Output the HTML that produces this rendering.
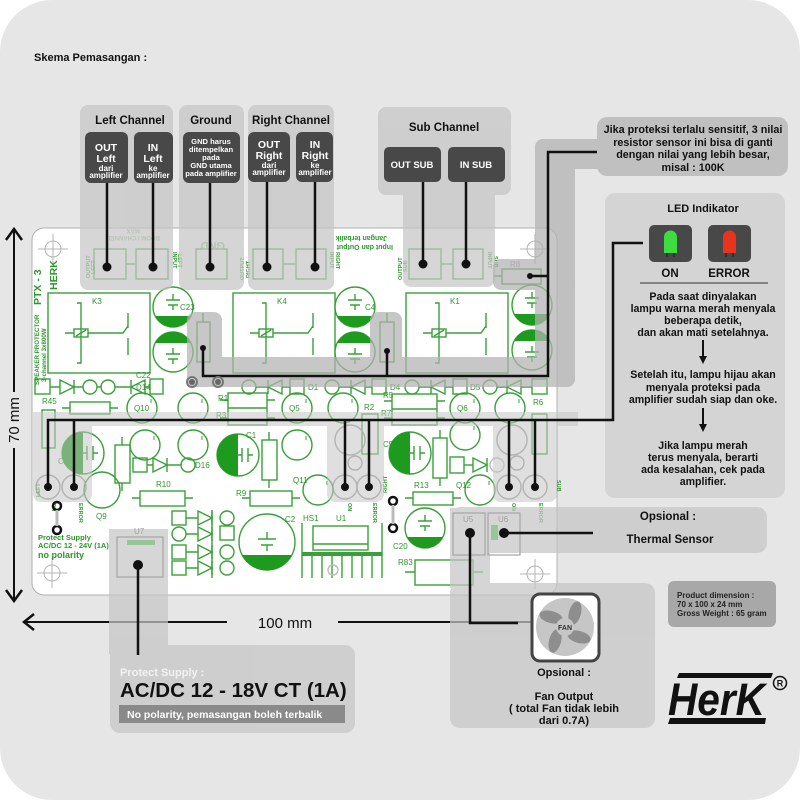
<!DOCTYPE html>
<html><head><meta charset="utf-8">
<style>
html,body{margin:0;padding:0;background:#fff;}
svg{display:block;}
text{font-family:"Liberation Sans",sans-serif;}
</style></head><body>
<svg width="800" height="800" viewBox="0 0 800 800" xmlns="http://www.w3.org/2000/svg" xmlns:xlink="http://www.w3.org/1999/xlink">
<defs>
<g id="relay" fill="none" stroke="#3a9f3a" stroke-width="1.4">
 <rect x="0" y="0" width="102" height="80"/>
 <path d="M29 10 H33 V70 H29 M17 40 H26 M40 40 H75 L80 33 M80 20 V35 M80 45 V62"/>
 <rect x="26" y="36" width="14" height="8"/>
 <path d="M28 43 L38 37"/>
</g>
<g id="capB"><circle r="20" fill="#fff" stroke="#3a9f3a" stroke-width="1.4"/><path d="M-17.9 9 A20 20 0 0 0 17.9 9 Z" fill="#1e9a1e"/><path d="M-7 -7 H7 M-5 -2 H5 M0 -13 V-7 M0 -2 V3" stroke="#3a9f3a" stroke-width="1.4" fill="none"/></g>
<g id="capT"><circle r="20" fill="#fff" stroke="#3a9f3a" stroke-width="1.4"/><path d="M-17.9 -9 A20 20 0 0 1 17.9 -9 Z" fill="#1e9a1e"/><path d="M-7 2 H7 M-5 7 H5 M0 -4 V2 M0 7 V12" stroke="#3a9f3a" stroke-width="1.4" fill="none"/></g>
<g id="capL"><circle r="21" fill="#fff" stroke="#3a9f3a" stroke-width="1.4"/><path d="M0 -21 A21 21 0 0 0 0 21 Z" fill="#1e9a1e"/><path d="M4 -7 V7 M10 -7 V7 M-1 0 H4 M10 0 H15" stroke="#3a9f3a" stroke-width="1.4" fill="none"/></g>
<g id="tr"><circle r="15" fill="none" stroke="#3a9f3a" stroke-width="1.4"/><path d="M9 -9 V-5" stroke="#3a9f3a" stroke-width="1"/></g>
<path id="dR" d="M0 -7 L14 0 L0 7 Z M14 -7 V7" fill="none" stroke="#3a9f3a" stroke-width="1.4"/>
</defs>

<!-- background -->
<rect x="0" y="0" width="800" height="800" rx="52" fill="#e6e6e6"/>

<text x="34" y="61" font-size="11" font-weight="bold" fill="#111">Skema Pemasangan :</text>

<!-- PCB -->
<rect x="32" y="228" width="525" height="367" rx="12" fill="#fff" stroke="#b0b0b0" stroke-width="1"/>

<!-- silkscreen -->
<g fill="none" stroke="#3a9f3a" stroke-width="1.4">
 <g stroke="#b5b5b5" stroke-width="1"><circle cx="53" cy="249" r="8"/><path d="M38 249 H68 M53 234 V264"/>
 <circle cx="52" cy="573" r="8"/><path d="M37 573 H67 M52 558 V588"/>
 <circle cx="535" cy="574" r="8"/><path d="M520 574 H550 M535 559 V589"/>
 <circle cx="535" cy="249" r="8"/><path d="M520 249 H550 M535 234 V264"/></g>
 <rect x="94" y="249" width="32" height="30"/><rect x="136" y="249" width="32" height="30"/><path d="M126 264 H136"/>
 <rect x="196" y="249" width="31" height="30"/>
 <rect x="253" y="249" width="30" height="30"/><rect x="296" y="249" width="30" height="30"/><path d="M283 264 H296"/>
 <rect x="409" y="249" width="32" height="30"/><rect x="453" y="249" width="30" height="30"/><path d="M441 264 H453"/>
 <rect x="502" y="269" width="39" height="15"/><path d="M493 276 H502 M541 276 H548"/>
 <rect x="197" y="322" width="13" height="40"/><path d="M203 313 V322 M203 362 V370"/>
 <rect x="380" y="322" width="14" height="40"/><path d="M387 313 V322 M387 362 V370"/>
 <rect x="35" y="379" width="15" height="15"/>
 <path d="M50 387 H60 M74 387 H83 M97 387 H101 M115 387 H131 M145 387 H150"/>
 <circle cx="90" cy="387" r="7"/><circle cx="108" cy="387" r="7"/>
 <rect x="150" y="379" width="13" height="15"/>
 <circle cx="249" cy="387" r="7"/><path d="M256 387 H268 M282 387 H290"/><rect x="290" y="379" width="14" height="15"/>
 <circle cx="332" cy="387" r="7"/><path d="M339 387 H351 M365 387 H372"/><rect x="372" y="379" width="14" height="15"/>
 <circle cx="412" cy="387" r="7"/><path d="M419 387 H431 M445 387 H453"/><rect x="453" y="379" width="14" height="15"/>
 <circle cx="490" cy="387" r="7"/><path d="M497 387 H507 M521 387 H532"/><rect x="532" y="379" width="15" height="15"/>
 <rect x="70" y="402" width="40" height="12"/><path d="M62 408 H70 M110 408 H118"/>
 <rect x="228" y="393" width="39" height="32"/><path d="M228 408 H267 M220 400 H228 M267 400 H275 M220 418 H228 M267 418 H275"/>
 <rect x="392" y="394" width="45" height="31"/><path d="M392 409 H437 M384 401 H392 M437 401 H445 M384 418 H392 M437 418 H445"/>
 <rect x="362" y="414" width="16" height="40"/>
 <rect x="532" y="414" width="15" height="40"/>
 <rect x="42" y="410" width="13" height="38"/>
 <rect x="115" y="445" width="15" height="38"/><path d="M122 437 V445 M122 483 V491"/>
 <rect x="262" y="440" width="15" height="40"/><path d="M269 432 V440 M269 480 V488"/>
 <rect x="433" y="438" width="14" height="40"/><path d="M440 430 V438 M440 478 V486"/>
 <rect x="140" y="491" width="45" height="15"/><path d="M132 498 H140 M185 498 H193"/>
 <rect x="250" y="491" width="42" height="15"/><path d="M242 498 H250 M292 498 H300"/>
 <rect x="413" y="492" width="40" height="13"/><path d="M405 498 H413 M453 498 H461"/>
 <rect x="415" y="560" width="58" height="25"/><path d="M405 572 H415 M473 572 H483"/>
 <rect x="133" y="458" width="14" height="14"/><path d="M147 465 H153 M167 465 H181"/><circle cx="188" cy="465" r="7"/>
 <rect x="450" y="457" width="14" height="16"/><path d="M464 465 H473"/><circle cx="497" cy="465" r="7" stroke="#bbb"/>
 <path d="M212 510 V578"/>
 <rect x="172" y="511" width="14" height="14"/><circle cx="179" cy="534" r="7"/><rect x="172" y="545" width="14" height="14"/><rect x="172" y="561" width="14" height="14"/>
 <circle cx="227" cy="518" r="7"/><rect x="220" y="526" width="14" height="14"/><circle cx="227" cy="552" r="7"/><circle cx="227" cy="568" r="7"/>
 <path d="M186 518 H198 M186 534 H198 M186 552 H198 M186 568 H198"/>
 <path d="M302 523 V578 M312 556 V578 M322 556 V578 M332 556 V578 M342 556 V578 M352 556 V578 M362 556 V578 M372 556 V578 M382 523 V578"/>
 <path d="M302 554 H382" stroke-width="4"/>
 <rect x="313" y="526" width="55" height="24"/><path d="M313 544 H368"/>
 <circle cx="333" cy="570" r="5" stroke="#bbb"/>
 <g stroke="#9a9a9a"><circle cx="48" cy="487" r="12"/><circle cx="74" cy="487" r="12"/><circle cx="345" cy="487" r="12"/><circle cx="369" cy="487" r="12"/><circle cx="509" cy="487" r="12"/><circle cx="535" cy="487" r="12"/>
 <circle cx="350" cy="440" r="15"/><circle cx="512" cy="440" r="15"/><circle cx="355" cy="463" r="7"/><circle cx="517" cy="463" r="7"/></g>
</g>
<use xlink:href="#relay" x="48" y="293"/>
<use xlink:href="#relay" x="233" y="293"/>
<use xlink:href="#relay" x="406" y="293"/>
<use xlink:href="#capB" x="173" y="307"/><use xlink:href="#capT" x="173" y="352"/>
<use xlink:href="#capB" x="355" y="307"/><use xlink:href="#capT" x="355" y="352"/>
<use xlink:href="#capB" x="532" y="305"/><use xlink:href="#capT" x="532" y="350"/>
<use xlink:href="#capL" x="83" y="453"/>
<use xlink:href="#capL" x="238" y="455"/>
<use xlink:href="#capL" x="410" y="453"/>
<g transform="translate(267,542)"><circle r="28" fill="#fff" stroke="#3a9f3a" stroke-width="1.4"/><path d="M-25 13 A28 28 0 0 0 25 13 Z" fill="#1e9a1e"/><path d="M-9 -3 H9 M-6 3 H6 M0 -10 V-3 M0 3 V9" stroke="#3a9f3a" stroke-width="1.4" fill="none"/></g>
<use xlink:href="#capB" x="425" y="528"/>
<use xlink:href="#dR" x="60" y="387"/>
<use xlink:href="#dR" transform="translate(145,387) scale(-1,1)"/>
<use xlink:href="#dR" transform="translate(282,387) scale(-1,1)"/>
<use xlink:href="#dR" transform="translate(365,387) scale(-1,1)"/>
<use xlink:href="#dR" transform="translate(445,387) scale(-1,1)"/>
<use xlink:href="#dR" transform="translate(521,387) scale(-1,1)"/>
<use xlink:href="#dR" x="153" y="465"/>
<use xlink:href="#dR" x="473" y="465"/>
<use xlink:href="#dR" x="198" y="518"/><use xlink:href="#dR" x="198" y="534"/><use xlink:href="#dR" x="198" y="552"/><use xlink:href="#dR" x="198" y="568"/>
<use xlink:href="#tr" x="142" y="408"/><use xlink:href="#tr" x="193" y="408"/><use xlink:href="#tr" x="297" y="408"/>
<use xlink:href="#tr" x="343" y="408"/><use xlink:href="#tr" x="465" y="408"/><use xlink:href="#tr" x="510" y="408"/>
<use xlink:href="#tr" x="145" y="445"/><use xlink:href="#tr" x="193" y="445"/><use xlink:href="#tr" x="297" y="445"/>
<use xlink:href="#tr" x="465" y="435"/><use xlink:href="#tr" x="318" y="490"/><use xlink:href="#tr" x="480" y="490"/>
<circle cx="102" cy="490" r="18" fill="none" stroke="#3a9f3a" stroke-width="1.4"/>
<g fill="#2e962e" font-size="8">
 <text x="92" y="304">K3</text><text x="277" y="304">K4</text><text x="450" y="304">K1</text>
 <text x="180" y="310">C23</text><text x="365" y="310">C4</text><text x="136" y="378">C22</text><text x="136" y="390">D14</text>
 <text x="308" y="390">D1</text><text x="390" y="390">D4</text><text x="470" y="390">D5</text>
 <text x="134" y="411">Q10</text><text x="289" y="411">Q5</text><text x="457" y="411">Q6</text>
 <text x="218" y="401">R1</text><text x="216" y="418">R3</text><text x="383" y="398">R5</text><text x="381" y="416">R7</text>
 <text x="364" y="410">R2</text><text x="533" y="405">R6</text><text x="42" y="404">R45</text>
 <text x="246" y="438">C1</text><text x="195" y="468">D16</text><text x="96" y="519">Q9</text>
 <text x="156" y="487">R10</text><text x="236" y="496">R9</text><text x="293" y="483">Q11</text>
 <text x="285" y="522">C2</text><text x="303" y="521">HS1</text><text x="336" y="521">U1</text>
 <text x="383" y="447">C5</text><text x="414" y="488">R13</text><text x="456" y="488">Q12</text>
 <text x="393" y="549">C20</text><text x="398" y="565">R83</text><text x="58" y="464">C21</text>
 <text x="510" y="267" fill="#999">R8</text>
</g>
<g fill="#2e962e" font-weight="bold">
 <text transform="translate(41,305) rotate(-90)" font-size="10.5">PTX - 3</text>
 <text transform="translate(57,290) rotate(-90)" font-size="10.5">HERK</text>
 <text transform="translate(39,385) rotate(-90)" font-size="6.2">SPEAKER PROTECTOR</text>
 <text transform="translate(46,382) rotate(-90)" font-size="6.2">3-channel 3x800W</text>
 <text transform="translate(225,242) rotate(180)" font-size="11" fill="#88b888">GND</text>
 <text transform="translate(160,236) rotate(180)" font-size="6" fill="#9ab89a">BOOM / CHANNEL</text>
 <text transform="translate(140,229) rotate(180)" font-size="6" fill="#9ab89a">MAX</text>
 <text transform="translate(387,236) rotate(180)" font-size="7" font-family="Liberation Mono">Jangan terbalik</text>
 <text transform="translate(393,245) rotate(180)" font-size="7" font-family="Liberation Mono">Input dan Output</text>
 <text transform="translate(90,278) rotate(-90)" font-size="5.5">OUTPUT</text><text transform="translate(95,274) rotate(-90)" font-size="5.5">LEFT</text>
 <text transform="translate(173,252) rotate(90)" font-size="5.5">INPUT</text><text transform="translate(178,254) rotate(90)" font-size="5.5">LEFT</text>
 <text transform="translate(244,280) rotate(-90)" font-size="5.5">OUTPUT</text><text transform="translate(250,278) rotate(-90)" font-size="5.5">RIGHT</text>
 <text transform="translate(330,252) rotate(90)" font-size="5.5">INPUT</text><text transform="translate(336,252) rotate(90)" font-size="5.5">RIGHT</text>
 <text transform="translate(402,280) rotate(-90)" font-size="5.5">OUTPUT</text><text transform="translate(407,272) rotate(-90)" font-size="5.5">SUB</text>
 <text transform="translate(488,252) rotate(90)" font-size="5.5">INPUT</text><text transform="translate(494,256) rotate(90)" font-size="5.5">SUB</text>
 <text transform="translate(40,497) rotate(-90)" font-size="5.5">LEFT</text>
 <text transform="translate(52,503) rotate(90)" font-size="5.5">ON</text>
 <text transform="translate(79,503) rotate(90)" font-size="5.5">ERROR</text>
 <text transform="translate(348,503) rotate(90)" font-size="5.5">ON</text>
 <text transform="translate(373,503) rotate(90)" font-size="5.5">ERROR</text>
 <text transform="translate(387,493) rotate(-90)" font-size="5.5">RIGHT</text>
 <text transform="translate(512,503) rotate(90)" font-size="5.5">ON</text>
 <text transform="translate(539,503) rotate(90)" font-size="5.5">ERROR</text>
 <text transform="translate(557,480) rotate(90)" font-size="5.5">SUB</text>
 <text x="38" y="540" font-size="7.5" font-family="Liberation Mono">Protect Supply</text>
 <text x="38" y="548" font-size="7.5" font-family="Liberation Mono">AC/DC 12 - 24V (1A)</text>
 <text x="38" y="558" font-size="9" font-family="Liberation Mono">no polarity</text>
</g>

<g stroke="#111" stroke-width="2" fill="none">
 <path d="M14 230 V392 M14 448 V600"/>
 <path d="M6 240 L14 229 L22 240" stroke-width="2.5"/>
 <path d="M6 590 L14 601 L22 590" stroke-width="2.5"/>
 <path d="M24 622 H227 M338 622 H531"/>
 <path d="M34 614 L24 622 L34 630" stroke-width="2.5"/>
</g>
<text transform="translate(19,420) rotate(-90)" text-anchor="middle" font-size="15" fill="#111">70 mm</text>
<text x="285" y="628" text-anchor="middle" font-size="15" fill="#111">100 mm</text>

<g opacity="0.72" fill="#c6c6c6">
 <rect x="80" y="105" width="93" height="185" rx="8"/>
 <rect x="179" y="105" width="65" height="185" rx="8"/>
 <rect x="248" y="105" width="86" height="185" rx="8"/>
 <rect x="378" y="107" width="133" height="88" rx="8"/>
 <rect x="403" y="180" width="92" height="107" rx="8"/>
</g>
<g opacity="0.72" fill="#b2b2b2">
 <rect x="597" y="117" width="191" height="59" rx="10"/>
 <rect x="535" y="139" width="70" height="30" rx="8"/>
 <rect x="535" y="139" width="40" height="248" rx="8"/>
 <rect x="187" y="357" width="388" height="30" rx="8"/>
 <rect x="187" y="312" width="35" height="75" rx="8"/>
 <rect x="370" y="312" width="32" height="75" rx="8"/>
 <rect x="493" y="259" width="82" height="31" rx="8"/>
</g>
<g opacity="0.55" fill="#c6c6c6">
 <rect x="33" y="412" width="545" height="14"/>
 <rect x="33" y="412" width="59" height="90" rx="8"/>
 <rect x="327" y="412" width="57" height="90" rx="8"/>
 <rect x="493" y="412" width="64" height="90" rx="8"/>
</g>
<g opacity="0.72" fill="#c6c6c6">
 <rect x="109" y="529" width="59" height="125"/>
 <rect x="110" y="645" width="245" height="88" rx="10"/>
 <rect x="450" y="508" width="40" height="80"/>
 <rect x="450" y="507" width="317" height="46" rx="10"/>
 <rect x="450" y="583" width="205" height="145" rx="10"/>
</g>
<g fill="none" stroke="#a5a5a5" stroke-width="1.2">
 <rect x="117" y="537" width="46" height="40"/>
 <rect x="453" y="513" width="32" height="42"/>
 <rect x="488" y="513" width="32" height="42"/>
</g>
<rect x="127" y="540" width="28" height="5" fill="#9ac49a"/>
<rect x="491" y="525" width="7" height="15" fill="#9ac49a"/>
<g fill="#a0a0a0" font-size="8"><text x="134" y="534">U7</text><text x="463" y="522">U5</text><text x="498" y="522">U6</text></g>

<rect x="605" y="193" width="180" height="305" rx="10" fill="#d4d4d4"/>
<rect x="649" y="225" width="43" height="37" rx="5" fill="#484848"/>
<rect x="708" y="225" width="43" height="37" rx="5" fill="#484848"/>
<path d="M664 253 V237 A6.5 6.5 0 0 1 677 237 V253 Z" fill="#3fdc3f"/>
<path d="M723 253 V237 A6.5 6.5 0 0 1 736 237 V253 Z" fill="#e8341c"/>
<path d="M667 253 V257 M674 253 V257 M726 253 V257 M733 253 V257" stroke="#222" stroke-width="1.2"/>
<g fill="#111" font-weight="bold" text-anchor="middle">
 <text x="703" y="212" font-size="11">LED Indikator</text>
 <text x="670" y="277" font-size="11.5">ON</text>
 <text x="729" y="277" font-size="11.5">ERROR</text>
 <g font-size="10.6">
 <text x="703" y="300">Pada saat dinyalakan</text>
 <text x="703" y="312">lampu warna merah menyala</text>
 <text x="703" y="324">beberapa detik,</text>
 <text x="703" y="336">dan akan mati setelahnya.</text>
 <text x="703" y="378">Setelah itu, lampu hijau akan</text>
 <text x="703" y="391">menyala proteksi pada</text>
 <text x="703" y="403">amplifier sudah siap dan oke.</text>
 <text x="703" y="449">Jika lampu merah</text>
 <text x="703" y="461">terus menyala, berarti</text>
 <text x="703" y="473">ada kesalahan, cek pada</text>
 <text x="703" y="485">amplifier.</text>
 </g>
</g>
<path d="M640 283 H768" stroke="#333" stroke-width="1"/>
<path d="M703 340 V357 M703 408 V425" stroke="#111" stroke-width="2"/>
<path d="M699 356 L703 364 L707 356 Z M699 424 L703 432 L707 424 Z" fill="#111"/>

<g stroke="#111" stroke-width="2.5" fill="none">
 <path d="M107 183 V267 M153 183 V267 M210 183 V267 M267 182 V267 M315 182 V267 M423 182 V264 M466 182 V264"/>
 <path d="M597 152 H548 V376 H203 V348 M387 376 V351 M530 276 H548"/>
 <path d="M643 243 H613 V420 H48 V487 M74 420 V487 M345 420 V487 M369 420 V487 M509 420 V487 M535 420 V487"/>
 <path d="M504 533 H593 M470 533 V623 H518"/>
 <path d="M138 565 V655"/>
</g>
<g fill="#111">
 <circle cx="107" cy="267" r="4.5"/><circle cx="153" cy="267" r="4.5"/><circle cx="210" cy="267" r="4.5"/><circle cx="267" cy="267" r="4.5"/><circle cx="315" cy="267" r="4.5"/><circle cx="423" cy="264" r="4.5"/><circle cx="466" cy="264" r="4.5"/>
 <circle cx="203" cy="348" r="3"/><circle cx="387" cy="351" r="3"/><circle cx="530" cy="276" r="3"/>
 <circle cx="48" cy="487" r="4"/><circle cx="74" cy="487" r="4"/><circle cx="345" cy="487" r="4"/><circle cx="369" cy="487" r="4"/><circle cx="509" cy="487" r="4"/><circle cx="535" cy="487" r="4"/>
 <circle cx="504" cy="533" r="5"/><circle cx="470" cy="533" r="5"/><circle cx="138" cy="565" r="5"/>
</g>
<g fill="none" stroke="#111" stroke-width="2.5">
 <circle cx="57" cy="506" r="4"/><circle cx="57" cy="530" r="4"/><circle cx="393" cy="501" r="4"/><circle cx="393" cy="528" r="4"/>
</g>
<path d="M57 510 V526 M393 505 V524" stroke="#bbb" stroke-width="3"/>
<g fill="#666"><circle cx="192" cy="382" r="3"/><circle cx="218" cy="382" r="3"/></g>
<g fill="none" stroke="#777" stroke-width="2"><circle cx="192" cy="382" r="5"/><circle cx="218" cy="382" r="5"/></g>

<g fill="#484848">
 <rect x="85" y="132" width="43" height="51" rx="6"/>
 <rect x="134" y="132" width="39" height="51" rx="6"/>
 <rect x="183" y="132" width="57" height="51" rx="6"/>
 <rect x="248" y="132" width="42" height="50" rx="6"/>
 <rect x="296" y="132" width="37" height="50" rx="6"/>
 <rect x="384" y="147" width="57" height="35" rx="5"/>
 <rect x="448" y="147" width="57" height="35" rx="5"/>
</g>
<g fill="#111" font-weight="bold" text-anchor="middle" font-size="11.5">
 <text x="130" y="124">Left Channel</text>
 <text x="211" y="124">Ground</text>
 <text x="291" y="124">Right Channel</text>
 <text x="444" y="131">Sub Channel</text>
</g>
<g fill="#fff" font-weight="bold" text-anchor="middle">
 <g font-size="10.5">
 <text x="106" y="151">OUT</text><text x="106" y="162">Left</text>
 <text x="153" y="151">IN</text><text x="153" y="162">Left</text>
 <text x="269" y="148">OUT</text><text x="269" y="159">Right</text>
 <text x="315" y="148">IN</text><text x="315" y="159">Right</text>
 </g>
 <g font-size="8">
 <text x="106" y="171">dari</text><text x="106" y="178">amplifier</text>
 <text x="153" y="171">ke</text><text x="153" y="178">amplifier</text>
 <text x="269" y="168">dari</text><text x="269" y="175">amplifier</text>
 <text x="315" y="168">ke</text><text x="315" y="175">amplifier</text>
 </g>
 <g font-size="7.6">
 <text x="211" y="144">GND harus</text><text x="211" y="152">ditempelkan</text><text x="211" y="160">pada</text><text x="211" y="168">GND utama</text><text x="211" y="176">pada amplifier</text>
 </g>
 <text x="412" y="168" font-size="9.5">OUT SUB</text>
 <text x="476" y="168" font-size="9.5">IN SUB</text>
</g>

<g fill="#111" font-weight="bold" text-anchor="middle" font-size="10.8">
 <text x="693" y="133">Jika proteksi terlalu sensitif, 3 nilai</text>
 <text x="693" y="146">resistor sensor ini bisa di ganti</text>
 <text x="693" y="158">dengan nilai  yang lebih besar,</text>
 <text x="693" y="171">misal : 100K</text>
</g>

<g fill="#111" font-weight="bold" text-anchor="middle" font-size="11.5">
 <text x="668" y="520">Opsional :</text>
 <text x="670" y="543">Thermal Sensor</text>
</g>

<rect x="532" y="594" width="67" height="67" rx="8" fill="#fff" stroke="#444" stroke-width="3"/>
<circle cx="565" cy="627" r="29" fill="#c6c6c6"/>
<g transform="translate(565,627)" fill="#8e8e8e">
 <ellipse cx="6" cy="-16" rx="6" ry="12" transform="rotate(15)"/>
 <ellipse cx="6" cy="-16" rx="6" ry="12" transform="rotate(105)"/>
 <ellipse cx="6" cy="-16" rx="6" ry="12" transform="rotate(195)"/>
 <ellipse cx="6" cy="-16" rx="6" ry="12" transform="rotate(285)"/>
</g>
<circle cx="565" cy="627" r="9" fill="#c6c6c6"/>
<text x="565" y="630" text-anchor="middle" font-size="7" font-weight="bold" fill="#333">FAN</text>
<g fill="#111" font-weight="bold" text-anchor="middle" font-size="11">
 <text x="564" y="676">Opsional :</text>
 <text x="564" y="700">Fan Output</text>
 <text x="564" y="712">( total Fan tidak lebih</text>
 <text x="564" y="724">dari 0.7A)</text>
</g>

<text x="120" y="676" font-size="11" font-weight="bold" fill="#f2f2f2">Protect Supply :</text>
<text x="120" y="697" font-size="20.5" font-weight="bold" fill="#111">AC/DC 12 - 18V CT (1A)</text>
<rect x="119" y="705" width="226" height="18" fill="#8a8a8a"/>
<text x="127" y="718" font-size="10.5" font-weight="bold" fill="#fff">No polarity, pemasangan boleh terbalik</text>

<rect x="668" y="581" width="108" height="46" rx="6" fill="#a8a8a8"/>
<g fill="#222" font-weight="bold" font-size="8">
 <text x="677" y="598">Product dimension :</text>
 <text x="677" y="607">70 x 100 x 24 mm</text>
 <text x="677" y="616">Gross Weight : 65 gram</text>
</g>

<path d="M679 673 H773 L771 678 H677 Z" fill="#111"/>
<path d="M670 718 H766 L765 724 H668 Z" fill="#111"/>
<text x="668" y="715" font-size="45" font-weight="bold" font-style="italic" fill="#111" textLength="97" lengthAdjust="spacingAndGlyphs">HerK</text>
<circle cx="780" cy="683" r="6.5" fill="none" stroke="#111" stroke-width="1.5"/>
<text x="780" y="686.5" text-anchor="middle" font-size="9" font-weight="bold" fill="#111">R</text>
</svg>
</body></html>
